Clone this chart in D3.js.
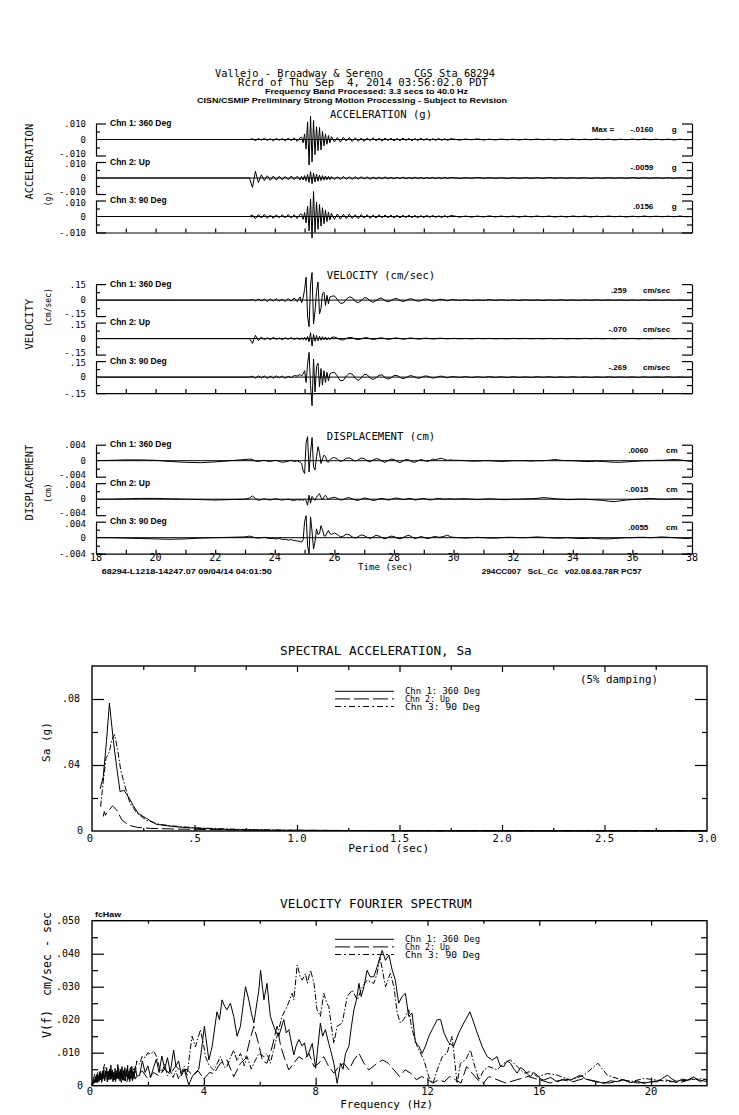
<!DOCTYPE html>
<html><head><meta charset="utf-8">
<script src="https://cdn.jsdelivr.net/npm/d3@7"></script>
<style>
body{margin:0;background:#fff;}
svg{display:block;background:#fff;}
text{fill:#000;white-space:pre;}
</style></head><body>
<svg width="739" height="1115"></svg>
<script>
// ---------------- DATA ----------------
const titleLines = [
  "Vallejo - Broadway & Sereno     CGS Sta 68294",
  "Rcrd of Thu Sep  4, 2014 03:56:02.0 PDT",
  "Frequency Band Processed: 3.3 secs to 40.0 Hz",
  "CISN/CSMIP Preliminary Strong Motion Processing - Subject to Revision"
];
const chanNames = ["Chn 1: 360 Deg", "Chn 2: Up", "Chn 3: 90 Deg"];
const timeTicks = [18, 20, 22, 24, 26, 28, 30, 32, 34, 36, 38];
const footerLeft = "68294-L1218-14247.07 09/04/14 04:01:50";
const footerRight = "294CC007   ScL_Cc   v02.08.63.78R PC57";

// sample segments (start time, step in s)
const segStarts = [23.15, 24.9, 25.9, 30.0];
const segSteps = [0.1, 0.05, 0.1, 0.2];
const dispSegStarts = [18.0, 23.15, 24.9, 25.9, 30.0];
const dispSegSteps = [0.5, 0.1, 0.05, 0.1, 0.2];

// ACCELERATION (g)
const accFull = 0.010;
const accTickLabels = [".010", "0", "-.010"];
const accPeaks = ["-.0160", "-.0059", ".0156"];
const accChn1 = [
  [0,.0005,-.0007,.0006,-.0004,.0008,-.0006,.0005,-.0008,.0007,-.0005,.0006,-.0009,.0008,-.0007,.0010,-.0012,.0011],
  [.0015,-.0020,.0035,-.0060,.0110,-.0160,.0146,-.0140,.0120,-.0095,.0080,-.0070,.0075,-.0065,.0050,-.0040,.0035,-.0030,.0025,-.0020],
  [.0018,-.0015,.0012,-.0016,.0014,-.0010,.0013,-.0012,.0010,-.0011,.0009,-.0012,.0010,-.0008,.0011,-.0009,.0008,-.0010,.0009,-.0007,
   .0008,-.0009,.0007,-.0008,.0009,-.0006,.0007,-.0008,.0006,-.0007,.0008,-.0005,.0006,-.0007,.0005,-.0006,.0007,-.0005,.0004,-.0006,.0005],
  [.0003,-.0004,.0003,-.0002,.0004,-.0003,.0002,-.0003,.0003,-.0002,.0002,-.0003,.0002,-.0002,.0003,-.0002,.0002,-.0003,.0002,-.0002,
   .0003,-.0002,.0002,-.0002,.0003,-.0002,.0002,-.0003,.0002,-.0002,.0002,-.0002,.0003,-.0002,.0002,-.0002,.0002,-.0003,.0002,-.0002,0]
];
const accChn2 = [
  [0,-.0059,.0042,-.0028,.0020,-.0016,.0014,-.0015,.0012,-.0013,.0011,-.0012,.0010,-.0011,.0012,-.0010,.0011,-.0012],
  [.0010,-.0012,.0015,-.0018,.0022,-.0028,.0040,-.0036,.0030,-.0025,.0024,-.0020,.0018,-.0016,.0015,-.0013,.0012,-.0011,.0010,-.0010],
  [.0009,-.0010,.0008,-.0009,.0010,-.0008,.0007,-.0009,.0008,-.0007,.0008,-.0006,.0007,-.0008,.0006,-.0007,.0006,-.0005,.0007,-.0006,
   .0005,-.0006,.0005,-.0004,.0006,-.0005,.0004,-.0005,.0005,-.0004,.0004,-.0005,.0004,-.0003,.0004,-.0004,.0003,-.0004,.0004,-.0003,.0003],
  [.0002,-.0003,.0002,-.0002,.0003,-.0002,.0002,-.0002,.0002,-.0003,.0002,-.0002,.0002,-.0002,.0002,-.0002,.0003,-.0002,.0002,-.0002,
   .0002,-.0002,.0002,-.0003,.0002,-.0002,.0002,-.0002,.0002,-.0002,.0003,-.0002,.0002,-.0002,.0002,-.0002,.0002,-.0002,.0002,-.0002,0]
];
const accChn3 = [
  [0,.0010,-.0014,.0012,-.0010,.0013,-.0011,.0009,-.0012,.0010,-.0008,.0011,-.0009,.0012,-.0010,.0011,-.0013,.0014],
  [.0015,-.0018,.0025,-.0040,.0065,-.0090,.0110,-.0135,.0156,-.0100,.0090,-.0080,.0075,-.0060,.0055,-.0045,.0040,-.0032,.0028,-.0022],
  [.0020,-.0018,.0015,-.0017,.0014,-.0013,.0015,-.0012,.0011,-.0013,.0012,-.0010,.0011,-.0012,.0009,-.0010,.0011,-.0009,.0010,-.0008,
   .0009,-.0010,.0008,-.0009,.0008,-.0007,.0009,-.0008,.0007,-.0008,.0006,-.0007,.0008,-.0006,.0007,-.0006,.0005,-.0007,.0006,-.0005,.0006],
  [.0004,-.0004,.0003,-.0004,.0003,-.0003,.0004,-.0003,.0003,-.0003,.0003,-.0004,.0003,-.0003,.0003,-.0002,.0003,-.0003,.0002,-.0003,
   .0003,-.0002,.0003,-.0003,.0002,-.0002,.0003,-.0002,.0002,-.0003,.0002,-.0002,.0003,-.0002,.0002,-.0002,.0002,-.0002,.0003,-.0002,0]
];

// VELOCITY (cm/sec)
const velFull = 0.15;
const velTickLabels = [".15", "0", "-.15"];
const velPeaks = [".259", "-.070", "-.269"];
const velChn1 = [
  [0,.006,-.008,.010,-.006,.008,-.012,.010,-.008,.012,-.010,.008,-.012,.015,-.010,.020,-.015,.030],
  [-.025,.020,.100,.215,-.150,-.250,.150,.259,-.225,-.100,.080,.170,-.130,-.080,.060,.075,-.050,.045,-.035,.030],
  [.035,.040,.005,-.030,-.028,.008,.030,.022,-.012,-.025,-.005,.022,.020,-.010,-.020,-.004,.016,.018,-.006,-.016,
   -.006,.012,.014,-.004,-.013,-.005,.010,.012,-.002,-.010,-.006,.008,.010,.000,-.009,-.005,.006,.008,.000,-.007,.003],
  [.004,-.003,.003,-.004,.002,-.003,.004,-.002,.003,-.003,.002,-.003,.003,-.002,.002,-.003,.002,-.002,.003,-.002,
   .002,-.003,.002,-.002,.003,-.002,.002,-.002,.002,-.003,.002,-.002,.003,-.002,.002,-.002,.002,-.003,.002,-.002,0]
];
const velChn2 = [
  [0,-.045,.030,-.020,.015,-.010,.008,-.010,.012,-.008,.006,-.010,.008,-.006,.010,-.008,.006,-.010],
  [.008,-.010,.012,-.015,.020,-.030,.055,-.070,.040,-.025,.030,-.020,.022,-.015,.018,-.012,.015,-.012,.010,-.010],
  [.012,.015,.004,-.010,-.012,.002,.011,.009,-.004,-.010,-.003,.008,.009,-.002,-.008,-.004,.006,.007,-.001,-.006,
   -.004,.005,.006,.000,-.005,-.003,.004,.005,.000,-.004,-.003,.003,.004,.000,-.003,-.002,.003,.003,.000,-.002,.001],
  [.002,-.002,.001,-.002,.002,-.001,.002,-.002,.001,-.002,.002,-.001,.002,-.002,.001,-.002,.002,-.001,.002,-.002,
   .001,-.002,.002,-.001,.002,-.002,.001,-.002,.002,-.001,.002,-.002,.001,-.002,.002,-.001,.002,-.002,.001,-.002,0]
];
const velChn3 = [
  [0,.008,-.010,.012,-.008,.010,-.012,.008,-.010,.012,-.006,.010,-.012,.008,-.006,.015,.010,.025],
  [.010,.030,.060,-.050,.120,.232,-.080,-.269,.170,-.140,.100,.130,-.090,.080,-.075,.060,-.050,.045,-.035,.030],
  [.040,.045,.010,-.035,-.030,.010,.035,.028,-.010,-.030,-.008,.025,.022,-.008,-.022,-.006,.018,.020,-.004,-.018,
   -.008,.014,.016,-.002,-.014,-.006,.010,.013,.000,-.011,-.006,.008,.011,.001,-.009,-.005,.006,.009,.000,-.007,.003],
  [.004,-.003,.004,-.004,.003,-.003,.004,-.003,.003,-.004,.003,-.003,.002,-.003,.003,-.002,.003,-.003,.002,-.002,
   .003,-.002,.002,-.003,.002,-.002,.003,-.002,.002,-.002,.002,-.003,.002,-.002,.002,-.002,.003,-.002,.002,-.002,0]
];

// DISPLACEMENT (cm)
const dispFull = 0.004;
const dispTickLabels = [".004", "0", "-.004"];
const dispPeaks = [".0060", "-.0015", ".0055"];
const dispChn1 = [
  [0,.0001,.0002,.0002,.0001,-.0002,-.0004,-.0005,-.0003,0,.0003],
  [.0004,.0003,-.0001,-.0002,0,.0001,-.0001,-.0002,0,.0001,-.0002,-.0004,-.0003,-.0001,.0001,-.0002,0,-.0004],
  [-.0007,-.0025,-.0032,.0045,.0060,-.0028,.0020,.0058,-.0015,-.0023,.0010,.0035,.0020,-.0007,.0005,.0014,.0010,-.0002,-.0004,.0002],
  [.0006,.0008,.0004,-.0002,.0001,.0006,.0007,.0003,-.0001,.0002,.0007,.0005,0,-.0003,.0002,.0005,.0004,-.0001,-.0004,0,
   .0004,.0003,-.0002,-.0005,-.0001,.0003,.0002,-.0003,-.0004,0,.0003,.0001,-.0002,0,.0004,.0002,.0005,.0006,.0003,.0001,.0002],
  [.0001,.0001,0,-.0001,-.0001,0,0,-.0001,-.0002,-.0001,0,0,0,-.0001,0,0,.0001,.0003,.0001,0,
   0,-.0001,-.0002,-.0002,-.0001,-.0002,-.0003,-.0004,-.0004,-.0003,-.0002,-.0001,0,0,.0001,.0001,.0002,.0003,.0002,0,-.0002]
];
const dispChn2 = [
  [0,0,.0001,.0002,.0002,.0001,0,-.0001,-.0002,-.0001,0],
  [.0003,.0008,.0002,-.0003,-.0001,.0001,-.0001,-.0002,0,.0001,-.0001,-.0002,-.0001,0,-.0002,-.0003,-.0001,-.0002],
  [-.0001,-.0003,0,-.0004,-.0015,.0010,-.0010,.0007,.0002,-.0003,.0005,.0010,.0014,.0004,-.0002,.0006,.0010,.0004,0,.0003],
  [.0003,.0005,.0002,-.0002,-.0001,.0003,.0004,.0001,-.0002,-.0003,0,.0003,.0002,-.0001,-.0003,-.0002,.0001,.0002,0,-.0002,
   -.0001,.0002,.0003,.0001,-.0001,0,.0002,.0001,-.0002,-.0001,.0001,.0002,0,-.0002,-.0001,.0001,.0002,.0001,0,.0001,.0001],
  [0,.0001,.0001,0,-.0001,0,.0001,0,-.0001,-.0001,0,0,.0001,.0001,.0002,.0004,.0003,.0001,0,-.0001,
   -.0001,0,0,-.0001,-.0002,-.0003,-.0005,-.0006,-.0004,-.0002,-.0001,0,.0001,.0002,.0001,0,0,.0001,.0001,0,0]
];
const dispChn3 = [
  [0,0,-.0001,-.0002,-.0003,-.0004,-.0003,-.0001,0,.0001,.0002],
  [.0004,.0002,0,-.0001,0,.0001,-.0001,-.0002,-.0002,-.0003,-.0002,-.0004,-.0004,-.0006,-.0005,-.0007,-.0008,-.0010],
  [-.0011,-.0005,.0040,.0055,-.0020,-.0040,.0052,.0015,-.0028,-.0010,.0022,.0008,.0010,.0030,.0020,.0005,.0004,.0012,.0018,.0010],
  [.0008,.0012,.0008,.0002,.0004,.0009,.0007,.0002,-.0001,.0003,.0007,.0005,.0001,-.0002,.0002,.0006,.0004,0,-.0003,.0001,
   .0004,.0003,-.0001,-.0003,0,.0004,.0006,.0002,-.0002,0,.0003,.0001,-.0002,-.0001,.0002,.0003,.0001,.0002,.0004,.0006,.0002],
  [.0001,0,-.0001,0,.0001,0,-.0001,-.0001,0,.0001,.0001,0,0,.0001,.0002,.0001,0,-.0001,-.0001,0,
   -.0001,-.0002,-.0002,-.0001,-.0002,-.0003,-.0003,-.0002,-.0001,0,0,.0001,.0001,0,.0001,.0002,.0001,0,-.0001,-.0002,-.0001]
];

// SPECTRAL ACCELERATION  [period sec, Sa g]
const saPeriodTicks = [0, 0.5, 1.0, 1.5, 2.0, 2.5, 3.0];
const saPeriodLabels = ["0", ".5", "1.0", "1.5", "2.0", "2.5", "3.0"];
const saSaTicks = [0, 0.04, 0.08];
const saSaLabels = ["0", ".04", ".08"];
const saChn1 = [[0.04,0.0255],[0.055,0.033],[0.071,0.055],[0.085,0.0774],[0.104,0.055],[0.12,0.039],[0.137,0.0238],[0.156,0.0248],[0.177,0.0208],[0.2,0.0157],[0.225,0.0107],[0.265,0.0077],[0.313,0.0041],[0.395,0.0027],[0.492,0.0018],[0.69,0.0008],[0.935,0.0004],[1.5,0.0002],[2.0,0.0001],[3.0,0.0001]];
const saChn2 = [[0.055,0.0088],[0.06,0.0118],[0.066,0.0095],[0.071,0.0108],[0.1,0.0152],[0.12,0.0128],[0.146,0.0067],[0.177,0.0036],[0.22,0.0022],[0.285,0.0016],[0.4,0.0012],[0.6,0.0008],[0.94,0.0004],[1.5,0.0002],[3.0,0.0001]];
const saChn3 = [[0.042,0.0147],[0.055,0.030],[0.068,0.044],[0.085,0.048],[0.096,0.055],[0.11,0.0585],[0.125,0.0494],[0.14,0.037],[0.161,0.027],[0.185,0.017],[0.218,0.011],[0.265,0.0065],[0.33,0.004],[0.43,0.0026],[0.53,0.0018],[0.72,0.001],[0.935,0.0005],[1.5,0.0002],[3.0,0.0001]];

// VELOCITY FOURIER SPECTRUM [Hz, cm/sec-sec]
const fasFreqTicks = [0, 4, 8, 12, 16, 20];
const fasValTicks = [0, 0.01, 0.02, 0.03, 0.04, 0.05];
const fasValLabels = ["0", ".010", ".020", ".030", ".040", ".050"];
const fasChn1 = [[0,0],[0.025,0.001],[0.05,0.0005],[0.075,0.002],[0.1,0.0008],[0.125,0.0028],[0.15,0.0012],[0.175,0.0035],[0.2,0.001],[0.225,0.003],[0.25,0.0015],[0.275,0.0042],[0.3,0.0018],[0.325,0.0038],[0.35,0.001],[0.375,0.0045],[0.4,0.0022],[0.425,0.005],[0.45,0.0015],[0.475,0.0038],[0.5,0.0025],[0.525,0.0055],[0.55,0.0012],[0.575,0.0044],[0.6,0.002],[0.625,0.005],[0.65,0.0018],[0.675,0.0062],[0.7,0.0025],[0.725,0.0048],[0.75,0.0012],[0.775,0.004],[0.8,0.0022],[0.825,0.0052],[0.85,0.0016],[0.875,0.0045],[0.9,0.0028],[0.925,0.0064],[0.95,0.002],[0.975,0.0042],[1.0,0.0015],[1.025,0.005],[1.05,0.0022],[1.075,0.0058],[1.1,0.0018],[1.125,0.0046],[1.15,0.0025],[1.175,0.0055],[1.2,0.0015],[1.225,0.0048],[1.25,0.0028],[1.275,0.0062],[1.3,0.002],[1.325,0.0044],[1.35,0.0012],[1.375,0.0052],[1.4,0.0025],[1.425,0.0058],[1.45,0.0018],[1.475,0.0044],[1.5,0.0022],[1.55,0.006],[1.6,0.003],[1.7,0.003],[1.8,0.0075],[1.9,0.004],[2.0,0.006],[2.1,0.0025],[2.2,0.0055],[2.3,0.008],[2.4,0.004],[2.5,0.009],[2.6,0.005],[2.7,0.0085],[2.8,0.004],[2.92,0.0108],[3.0,0.006],[3.1,0.0075],[3.2,0.003],[3.3,0.005],[3.4,0.002],[3.46,0.0002],[3.6,0.003],[3.82,0.005],[3.92,0.011],[4.02,0.018],[4.18,0.0078],[4.3,0.012],[4.47,0.0224],[4.56,0.020],[4.65,0.026],[4.75,0.024],[4.83,0.023],[4.95,0.025],[5.07,0.021],[5.19,0.015],[5.31,0.018],[5.4,0.024],[5.49,0.030],[5.61,0.026],[5.7,0.022],[5.79,0.019],[5.97,0.029],[6.03,0.035],[6.15,0.026],[6.26,0.031],[6.38,0.021],[6.5,0.018],[6.6,0.016],[6.68,0.015],[6.86,0.020],[6.95,0.016],[7.04,0.017],[7.22,0.0093],[7.3,0.012],[7.40,0.014],[7.52,0.012],[7.60,0.013],[7.70,0.0088],[7.88,0.0128],[8.00,0.0053],[8.17,0.019],[8.25,0.015],[8.35,0.017],[8.47,0.0128],[8.56,0.010],[8.65,0.0068],[8.77,0.0007],[8.89,0.0068],[8.98,0.005],[9.07,0.0098],[9.19,0.012],[9.28,0.018],[9.37,0.023],[9.46,0.026],[9.55,0.031],[9.63,0.027],[9.73,0.030],[9.84,0.035],[9.95,0.033],[10.08,0.033],[10.2,0.036],[10.38,0.041],[10.5,0.038],[10.62,0.0396],[10.74,0.035],[10.85,0.032],[10.97,0.025],[11.09,0.027],[11.21,0.028],[11.33,0.021],[11.45,0.022],[11.57,0.013],[11.69,0.012],[11.81,0.0098],[11.93,0.012],[12.05,0.015],[12.17,0.017],[12.35,0.020],[12.47,0.020],[12.59,0.016],[12.76,0.013],[12.94,0.012],[13.12,0.016],[13.3,0.019],[13.52,0.0224],[13.66,0.019],[13.78,0.016],[13.96,0.0118],[14.14,0.0088],[14.32,0.0078],[14.49,0.0088],[14.6,0.006],[14.73,0.0058],[14.85,0.0075],[14.97,0.0068],[15.1,0.005],[15.21,0.0038],[15.33,0.0055],[15.45,0.0048],[15.57,0.0035],[15.69,0.0028],[15.8,0.004],[15.93,0.0032],[16.05,0.002],[16.17,0.0017],[16.4,0.0025],[16.64,0.0012],[16.9,0.002],[17.12,0.0017],[17.3,0.0025],[17.48,0.0032],[17.66,0.002],[17.84,0.0017],[18.1,0.0012],[18.31,0.0007],[18.55,0.0015],[18.79,0.0012],[19.0,0.0018],[19.27,0.0009],[19.5,0.0014],[19.75,0.0007],[20.0,0.0012],[20.22,0.0012],[20.4,0.0022],[20.58,0.0032],[20.75,0.002],[20.94,0.0012],[21.1,0.002],[21.3,0.0017],[21.53,0.0027],[21.65,0.0018],[21.77,0.0012],[21.9,0.002],[22.0,0.0017]];
const fasChn2 = [[0,0],[0.05,0.002],[0.1,0.0035],[0.15,0.001],[0.2,0.003],[0.25,0.0012],[0.3,0.0048],[0.35,0.002],[0.4,0.0035],[0.45,0.0015],[0.5,0.004],[0.55,0.0012],[0.6,0.003],[0.65,0.0018],[0.7,0.0042],[0.75,0.0015],[0.8,0.0032],[0.85,0.001],[0.9,0.0038],[0.95,0.0018],[1.0,0.0028],[1.05,0.001],[1.1,0.0035],[1.15,0.0015],[1.2,0.003],[1.25,0.0012],[1.3,0.0038],[1.35,0.0018],[1.4,0.003],[1.45,0.0015],[1.5,0.004],[1.55,0.002],[1.6,0.0028],[1.8,0.0045],[2.0,0.002],[2.2,0.004],[2.4,0.003],[2.6,0.005],[2.8,0.0035],[3.0,0.006],[3.2,0.004],[3.4,0.005],[3.6,0.003],[3.8,0.0045],[4.0,0.002],[4.2,0.004],[4.36,0.0037],[4.59,0.0068],[4.83,0.0078],[5.07,0.0027],[5.31,0.0068],[5.49,0.0082],[5.65,0.014],[5.79,0.018],[5.95,0.013],[6.1,0.0075],[6.26,0.0068],[6.45,0.012],[6.62,0.018],[6.75,0.012],[6.9,0.008],[7.04,0.0048],[7.22,0.0068],[7.4,0.0088],[7.58,0.0078],[7.76,0.0098],[7.94,0.0058],[8.12,0.0068],[8.29,0.0088],[8.47,0.0058],[8.65,0.0038],[8.83,0.0058],[9.01,0.0068],[9.19,0.0048],[9.37,0.0078],[9.55,0.0098],[9.73,0.0068],[9.9,0.0048],[10.2,0.0068],[10.4,0.0078],[10.6,0.0068],[10.8,0.0048],[11.0,0.0028],[11.2,0.0048],[11.4,0.0038],[11.6,0.0018],[11.8,0.0028],[12.0,0.0018],[12.2,0.0008],[12.4,0.0018],[12.6,0.0012],[12.8,0.0028],[13.0,0.0018],[13.2,0.0008],[13.4,0.0058],[13.6,0.0038],[13.8,0.0018],[14.0,0.0008],[14.2,0.0028],[14.5,0.0018],[14.8,0.0008],[15.2,0.0018],[15.6,0.0028],[16.0,0.0018],[16.4,0.0008],[16.8,0.0018],[17.2,0.0012],[17.6,0.0022],[18.0,0.0012],[18.5,0.0008],[19.0,0.0018],[19.5,0.0008],[20.0,0.0012],[20.5,0.0018],[21.0,0.0008],[21.5,0.0022],[22.0,0.0012]];
const fasChn3 = [[0,0],[0.05,0.0008],[0.1,0.0025],[0.15,0.001],[0.2,0.004],[0.25,0.0018],[0.3,0.0035],[0.35,0.0012],[0.4,0.005],[0.45,0.0065],[0.5,0.003],[0.55,0.0045],[0.6,0.0018],[0.65,0.005],[0.7,0.002],[0.75,0.0042],[0.8,0.0015],[0.85,0.0038],[0.9,0.0022],[0.95,0.0055],[1.0,0.0025],[1.05,0.0048],[1.1,0.0018],[1.15,0.0044],[1.2,0.0025],[1.25,0.0052],[1.3,0.002],[1.35,0.0045],[1.4,0.006],[1.45,0.0035],[1.5,0.0055],[1.55,0.004],[1.6,0.0075],[1.7,0.0065],[1.8,0.009],[1.9,0.0085],[2.0,0.010],[2.1,0.0095],[2.2,0.0105],[2.3,0.009],[2.4,0.006],[2.5,0.004],[2.6,0.0065],[2.7,0.003],[2.8,0.005],[2.9,0.0025],[3.0,0.0045],[3.1,0.002],[3.2,0.004],[3.3,0.006],[3.4,0.003],[3.5,0.010],[3.58,0.015],[3.7,0.0118],[3.88,0.017],[4.0,0.012],[4.06,0.0088],[4.2,0.006],[4.36,0.0047],[4.47,0.0065],[4.59,0.0088],[4.75,0.0055],[4.83,0.0058],[4.95,0.0085],[5.07,0.0108],[5.19,0.0075],[5.31,0.0098],[5.45,0.006],[5.55,0.0088],[5.7,0.005],[5.8,0.007],[5.97,0.0098],[6.15,0.0088],[6.26,0.0098],[6.38,0.0068],[6.5,0.011],[6.62,0.015],[6.80,0.021],[6.98,0.024],[7.16,0.028],[7.22,0.026],[7.34,0.0366],[7.45,0.033],[7.52,0.032],[7.64,0.034],[7.70,0.031],[7.82,0.035],[7.94,0.031],[8.05,0.023],[8.17,0.021],[8.29,0.028],[8.40,0.025],[8.47,0.024],[8.65,0.0128],[8.77,0.018],[8.95,0.019],[9.13,0.027],[9.31,0.029],[9.49,0.026],[9.67,0.030],[9.84,0.032],[10.08,0.031],[10.2,0.034],[10.3,0.039],[10.5,0.030],[10.67,0.034],[10.8,0.030],[10.92,0.022],[11.03,0.019],[11.15,0.020],[11.33,0.023],[11.45,0.017],[11.63,0.012],[11.87,0.0078],[12.05,0.0027],[12.2,0.0007],[12.35,0.0048],[12.53,0.0088],[12.7,0.0098],[12.88,0.015],[13.06,0.0007],[13.18,0.0068],[13.36,0.0078],[13.54,0.0108],[13.66,0.0068],[13.84,0.0017],[14.02,0.0048],[14.2,0.0058],[14.49,0.0048],[14.73,0.0068],[14.97,0.0078],[15.21,0.0058],[15.45,0.0038],[15.69,0.0043],[15.93,0.0027],[16.3,0.0037],[16.64,0.0032],[17.12,0.0017],[17.6,0.0032],[18.1,0.0068],[18.43,0.0032],[18.79,0.0022],[19.27,0.0012],[19.75,0.0022],[20.22,0.0017],[20.7,0.0012],[21.3,0.0017],[21.77,0.0022],[22.0,0.0017]];

// ---------------- DRAWING ----------------
const svg = d3.select("svg");
const MONO = "'DejaVu Sans Mono', monospace";
const SANS = "'Liberation Sans', Arial, sans-serif";
const dashes = [null, "12,4", "6,2,1.5,2"];

function label(x, y, s, o = {}) {
  const t = svg.append("text").attr("x", x).attr("y", y).text(s)
    .attr("font-family", o.sans ? SANS : MONO)
    .attr("font-size", o.size || 10)
    .attr("font-weight", o.bold ? "bold" : "normal")
    .attr("text-anchor", o.anchor || "start");
  if (o.len) t.attr("textLength", o.len).attr("lengthAdjust", "spacingAndGlyphs");
  if (o.rot) t.attr("transform", `rotate(-90 ${x} ${y})`);
  return t;
}
function styleAxis(g, sw) {
  g.selectAll("path,line").attr("stroke", "#000").attr("stroke-width", sw || 1.2);
  return g;
}
function tickAxis(axis, tx, ty, keepDomain) {
  const g = svg.append("g").attr("transform", `translate(${tx},${ty})`).call(axis);
  if (!keepDomain) g.select(".domain").remove();
  return styleAxis(g);
}

// titles
label(215, 76.7, titleLines[0], {size: 10.5, len: 280});
label(238, 85.5, titleLines[1], {size: 10.5, len: 250});
label(265, 93.8, titleLines[2], {size: 7.5, sans: true, bold: true, len: 203});
label(197, 102.5, titleLines[3], {size: 7.5, sans: true, bold: true, len: 310});

// ---- seismogram panels ----
const xT = d3.scaleLinear().domain([timeTicks[0], timeTicks[timeTicks.length - 1]]).range([96, 692]);
const HALF = 16, STEP = 38.5;

function buildTrace(segs, starts, steps, preFlat) {
  const pts = preFlat ? [[timeTicks[0], 0]] : [];
  const tEnd = timeTicks[timeTicks.length - 1];
  segs.forEach((vals, i) => {
    const end = i + 1 < starts.length ? starts[i + 1] - 1e-6 : tEnd + 1e-6;
    vals.forEach((v, j) => {
      const t = starts[i] + j * steps[i];
      if (t <= end) pts.push([t, v]);
    });
  });
  return pts;
}

const seisPanels = [
  {zero: 139.5, title: "ACCELERATION (g)", name: "ACCELERATION", nameY: 161.7, unit: "(g)", unitY: 199,
   full: accFull, ticks: accTickLabels, peaks: accPeaks, peakUnit: "g", valX: 653.3, unitX: 671.7, peakDy: -8,
   traces: [accChn1, accChn2, accChn3], starts: segStarts, steps: segSteps, preFlat: true, maxLabel: true},
  {zero: 300.1, title: "VELOCITY (cm/sec)", name: "VELOCITY", nameY: 324.2, unit: "(cm/sec)", unitY: 307.5,
   full: velFull, ticks: velTickLabels, peaks: velPeaks, peakUnit: "cm/sec", valX: 626.7, unitX: 643, peakDy: -6.8,
   traces: [velChn1, velChn2, velChn3], starts: segStarts, steps: segSteps, preFlat: true},
  {zero: 460.7, title: "DISPLACEMENT (cm)", name: "DISPLACEMENT", nameY: 482.5, unit: "(cm)", unitY: 493,
   full: dispFull, ticks: dispTickLabels, peaks: dispPeaks, peakUnit: "cm", valX: 648.3, unitX: 666, peakDy: -7.4,
   traces: [dispChn1, dispChn2, dispChn3], starts: dispSegStarts, steps: dispSegSteps, preFlat: false, timeLabels: true}
];

const [x0, x1] = xT.range();
seisPanels.forEach(p => {
  label(381, p.zero - 21.2, p.title, {size: 10.6, anchor: "middle"});
  label(33, p.nameY, p.name, {size: 10.5, anchor: "middle", rot: true});
  label(51, p.unitY, p.unit, {size: 8, anchor: "middle", rot: true});
  for (let k = 0; k < 3; k++) {
    const z = p.zero + k * STEP;
    const y = d3.scaleLinear().domain([-p.full, p.full]).range([z + HALF, z - HALF]);
    // zero line
    svg.append("line").attr("x1", x0).attr("x2", x1).attr("y1", y(0)).attr("y2", y(0))
      .attr("stroke", "#000").attr("stroke-width", 1);
    // left bracket
    tickAxis(d3.axisRight(y).tickValues([p.full, -p.full]).tickSize(10).tickSizeOuter(0).tickFormat(""), x0, 0, true);
    tickAxis(d3.axisRight(y).tickValues([p.full / 2, -p.full / 2]).tickSize(4).tickFormat(""), x0, 0);
    // right bracket
    tickAxis(d3.axisLeft(y).tickValues([p.full, -p.full]).tickSize(10).tickSizeOuter(0).tickFormat(""), x1, 0, true);
    tickAxis(d3.axisLeft(y).tickValues([p.full / 2, -p.full / 2]).tickSize(5).tickFormat(""), x1, 0);
    // tick labels (nudged so neighbouring sub-panels' labels just touch)
    const dys = [k > 0 ? 5.2 : 3.5, 3.2, k < 2 ? 1.2 : 3.5];
    [p.full, 0, -p.full].forEach((v, i) => label(86, y(v) + dys[i], p.ticks[i], {size: 9, anchor: "end"}));
    // channel name
    label(110, z - 13.3, chanNames[k], {size: 8.5, sans: true, bold: true});
    // peak value
    if (p.maxLabel && k === 0) label(591.7, z + p.peakDy, "Max =", {size: 8, sans: true, bold: true});
    label(p.valX, z + p.peakDy, p.peaks[k], {size: 8, sans: true, bold: true, anchor: "end"});
    label(p.unitX, z + p.peakDy, p.peakUnit, {size: 8, sans: true, bold: true});
    // trace
    const pts = buildTrace(p.traces[k], p.starts, p.steps, p.preFlat);
    svg.append("path").datum(pts)
      .attr("d", d3.line().x(d => xT(d[0])).y(d => y(d[1])))
      .attr("fill", "none").attr("stroke", "#000").attr("stroke-width", 1).attr("stroke-linejoin", "round");
    // bottom time axis
    if (k === 2) {
      const yb = y(-p.full);
      const secs = d3.range(timeTicks[0] + 1, timeTicks[timeTicks.length - 1], 1);
      tickAxis(d3.axisTop(xT).tickValues(secs).tickSize(4).tickSizeOuter(0).tickFormat(""), 0, yb, true);
      if (p.timeLabels) {
        timeTicks.forEach(t => label(xT(t), yb + 7, String(t), {size: 10, anchor: "middle"}));
        label(385.5, yb + 16.5, "Time (sec)", {size: 9.5, anchor: "middle", len: 55});
        label(101.7, yb + 20, footerLeft, {size: 7.5, sans: true, bold: true, len: 170});
        label(481.7, yb + 20, footerRight, {size: 7.5, sans: true, bold: true, len: 160});
      }
    }
  }
});

// ---- legend helper ----
function legend(yTop) {
  chanNames.forEach((n, i) => {
    const yy = yTop + i * 7.6;
    const ln = svg.append("line").attr("x1", 335).attr("x2", 394).attr("y1", yy).attr("y2", yy)
      .attr("stroke", "#000").attr("stroke-width", 1);
    if (dashes[i]) ln.attr("stroke-dasharray", i === 1 ? "15,4" : "6,3,2,3");
    label(405, yy + 3, n, {size: 8.5, len: i === 1 ? 45 : 75});
  });
}

// ---- SPECTRAL ACCELERATION ----
const xP = d3.scaleLinear().domain([saPeriodTicks[0], saPeriodTicks[saPeriodTicks.length - 1]]).range([92, 707]);
const yS = d3.scaleLinear().domain([0, 0.1]).range([831, 666]);
svg.append("rect").attr("x", xP(0)).attr("y", yS(0.1)).attr("width", xP(3) - xP(0)).attr("height", yS(0) - yS(0.1))
  .attr("fill", "none").attr("stroke", "#000").attr("stroke-width", 1.4);
tickAxis(d3.axisRight(yS).tickValues([0.04, 0.08]).tickSize(12).tickFormat(""), xP(0), 0);
tickAxis(d3.axisRight(yS).tickValues([0.02, 0.06]).tickSize(6).tickFormat(""), xP(0), 0);
tickAxis(d3.axisLeft(yS).tickValues([0.04, 0.08]).tickSize(12).tickFormat(""), xP(3), 0);
tickAxis(d3.axisLeft(yS).tickValues([0.02, 0.06]).tickSize(5).tickFormat(""), xP(3), 0);
tickAxis(d3.axisTop(xP).tickValues([0.5, 1, 1.5, 2, 2.5]).tickSize(6).tickFormat(""), 0, yS(0));
tickAxis(d3.axisTop(xP).tickValues([0.25, 0.75, 1.25, 1.75, 2.25, 2.75]).tickSize(3).tickFormat(""), 0, yS(0));
tickAxis(d3.axisBottom(xP).tickValues([0.5, 1, 1.5, 2, 2.5]).tickSize(6).tickFormat(""), 0, yS(0.1));
tickAxis(d3.axisBottom(xP).tickValues([0.25, 0.75, 1.25, 1.75, 2.25, 2.75]).tickSize(4).tickFormat(""), 0, yS(0.1));
saSaTicks.forEach((v, i) => label(v === 0 ? 83 : 80, yS(v) + 3.2, saSaLabels[i], {size: 10, anchor: "end"}));
saPeriodTicks.forEach((v, i) => label(xP(v) - (v === 0 ? 2 : 0), 841.7, saPeriodLabels[i], {size: 10.5, anchor: "middle"}));
label(375.9, 655, "SPECTRAL ACCELERATION, Sa", {size: 12.5, anchor: "middle", len: 191.7});
label(580, 682.7, "(5% damping)", {size: 11, len: 78});
label(388.8, 851.7, "Period (sec)", {size: 11, anchor: "middle", len: 81});
label(50, 742, "Sa (g)", {size: 11, anchor: "middle", rot: true});
legend(691.3);
[saChn1, saChn2, saChn3].forEach((s, i) => {
  const pth = svg.append("path").datum(s)
    .attr("d", d3.line().x(d => xP(d[0])).y(d => yS(d[1])))
    .attr("fill", "none").attr("stroke", "#000").attr("stroke-width", 1);
  if (dashes[i]) pth.attr("stroke-dasharray", dashes[i]);
});

// ---- VELOCITY FOURIER SPECTRUM ----
const xF = d3.scaleLinear().domain([0, 22]).range([92, 707]);
const yF = d3.scaleLinear().domain([fasValTicks[0], fasValTicks[fasValTicks.length - 1]]).range([1085.7, 920.7]);
svg.append("rect").attr("x", xF(0)).attr("y", yF(0.05)).attr("width", xF(22) - xF(0)).attr("height", yF(0) - yF(0.05))
  .attr("fill", "none").attr("stroke", "#000").attr("stroke-width", 1.4);
const halfTicks = [0.005, 0.015, 0.025, 0.035, 0.045];
tickAxis(d3.axisRight(yF).tickValues(fasValTicks.slice(1, 5)).tickSize(12).tickFormat(""), xF(0), 0);
tickAxis(d3.axisRight(yF).tickValues(halfTicks).tickSize(6).tickFormat(""), xF(0), 0);
tickAxis(d3.axisLeft(yF).tickValues(fasValTicks.slice(1, 5)).tickSize(12).tickFormat(""), xF(22), 0);
tickAxis(d3.axisLeft(yF).tickValues(halfTicks).tickSize(6).tickFormat(""), xF(22), 0);
tickAxis(d3.axisTop(xF).tickValues([4, 8, 12, 16, 20]).tickSize(8).tickFormat(""), 0, yF(0));
tickAxis(d3.axisTop(xF).tickValues([2, 6, 10, 14, 18]).tickSize(4).tickFormat(""), 0, yF(0));
tickAxis(d3.axisBottom(xF).tickValues([4, 8, 12, 16, 20]).tickSize(5).tickFormat(""), 0, yF(0.05));
tickAxis(d3.axisBottom(xF).tickValues([2, 6, 10, 14, 18]).tickSize(3).tickFormat(""), 0, yF(0.05));
fasValTicks.forEach((v, i) => label(v === 0 ? 83 : 80, yF(v) + 3.2, fasValLabels[i], {size: 10, anchor: "end"}));
fasFreqTicks.forEach(v => label(xF(v) - (v === 0 ? 2 : 0), 1095, String(v), {size: 10.5, anchor: "middle"}));
label(375.9, 908.3, "VELOCITY FOURIER SPECTRUM", {size: 12.5, anchor: "middle", len: 191.7});
label(95, 917.3, "fcHaw", {size: 8, sans: true, bold: true, len: 26});
label(386.7, 1108, "Frequency (Hz)", {size: 11, anchor: "middle", len: 93});
label(51, 975, "V(f)  cm/sec - sec", {size: 11.5, anchor: "middle", rot: true, len: 126});
legend(939.3);
[fasChn1, fasChn2, fasChn3].forEach((s, i) => {
  const pth = svg.append("path").datum(s)
    .attr("d", d3.line().x(d => xF(d[0])).y(d => yF(d[1])))
    .attr("fill", "none").attr("stroke", "#000").attr("stroke-width", 1);
  if (dashes[i]) pth.attr("stroke-dasharray", dashes[i]);
});
</script>
</body></html>
